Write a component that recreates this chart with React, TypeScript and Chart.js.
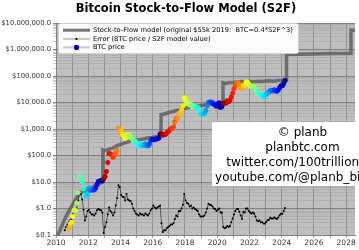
import { useEffect, useRef } from "react";
import { Chart, registerables } from "chart.js";
Chart.register(...registerables);

// ---------- DATA ----------
// BTC monthly prices (USD), one array per calendar year, null = not shown
const btc2010 = [null, null, null, null, null, null, 0.06, 0.07, 0.06, 0.18, 0.26, 0.3];
const btc2011 = [0.5, 0.85, 0.85, 1.6, 4.0, 16, 14, 10, 5.5, 3.2, 2.8, 3.6];
const btc2012 = [6, 5, 4.9, 5, 5.1, 6, 8, 10.5, 11, 11.5, 11, 13.3];
const btc2013 = [16, 25, 55, 120, 115, 105, 85, 105, 130, 160, 1100, 760];
const btc2014 = [850, 620, 580, 450, 500, 620, 610, 520, 450, 360, 370, 330];
const btc2015 = [250, 235, 270, 235, 237, 235, 280, 250, 235, 270, 360, 420];
const btc2016 = [410, 400, 415, 430, 460, 650, 660, 580, 605, 640, 720, 800];
const btc2017 = [900, 1050, 1100, 1250, 1900, 2600, 2500, 3900, 4000, 5300, 7500, 15000];
const btc2018 = [12000, 9500, 9000, 8000, 8500, 6700, 7200, 6700, 6600, 6500, 5500, 3700];
const btc2019 = [3600, 3700, 3950, 5000, 7500, 10000, 10500, 10500, 9700, 8500, 8000, 7200];
const btc2020 = [8500, 9800, 6500, 7000, 9300, 9500, 9600, 11600, 10700, 11800, 16000, 23000];
const btc2021 = [34000, 46000, 55000, 57000, 45000, 35000, 33000, 46000, 45000, 60000, 60000, 50000];
const btc2022 = [42000, 40000, 42000, 41000, 31000, 22000, 21000, 22000, 19500, 19500, 17000, 16800];
const btc2023 = [20000, 23000, 25000, 29000, 27500, 27000, 30000, 28000, 26500, 30000, 37000, 42500];
const btc2024 = [42500, 52000, 68000];

// Error = BTC price / S2F model value, monthly
const err2010 = [null, null, null, null, null, null, 0.15, 0.2, 0.25, 0.3, 0.35, 0.4];
const err2011 = [0.6, 0.9, 0.8, 1.0, 2.0, 4.5, 3.5, 2.2, 0.9, 0.35, 0.5, 0.8];
const err2012 = [0.9, 0.7, 0.6, 0.6, 0.55, 0.65, 0.85, 0.95, 0.9, 0.85, 0.7, 0.12];
const err2013 = [0.2, 0.3, 0.6, 1.1, 0.8, 0.7, 0.55, 0.7, 1.3, 2.5, 7.5, 6.5];
const err2014 = [3.2, 2.8, 2.7, 2.0, 3.5, 2.2, 2.0, 1.9, 1.5, 1.0, 0.8, 0.65];
const err2015 = [0.6, 0.55, 0.65, 0.6, 0.6, 0.55, 0.65, 0.6, 0.55, 0.65, 0.85, 1.0];
const err2016 = [1.3, 1.1, 1.0, 1.1, 1.2, 1.3, 0.28, 0.13, 0.15, 0.15, 0.18, 0.2];
const err2017 = [0.22, 0.25, 0.25, 0.28, 0.4, 0.55, 0.5, 0.8, 0.8, 1.0, 1.4, 3.5];
const err2018 = [2.0, 1.6, 1.5, 1.2, 1.3, 1.0, 1.1, 0.95, 0.9, 0.8, 0.6, 0.5];
const err2019 = [0.5, 0.5, 0.55, 0.7, 1.0, 1.5, 1.4, 1.35, 1.2, 1.0, 0.95, 0.8];
const err2020 = [0.9, 1.0, 0.7, 0.7, 0.2, 0.18, 0.19, 0.22, 0.2, 0.22, 0.3, 0.42];
const err2021 = [0.6, 0.8, 0.95, 0.95, 0.75, 0.55, 0.4, 0.75, 0.7, 1.0, 1.0, 0.8];
const err2022 = [0.7, 0.65, 0.7, 0.65, 0.5, 0.35, 0.33, 0.35, 0.3, 0.3, 0.27, 0.27];
const err2023 = [0.31, 0.36, 0.38, 0.45, 0.42, 0.42, 0.46, 0.43, 0.4, 0.46, 0.56, 0.63];
const err2024 = [0.63, 0.8, 1.05];

const dataYears = [2010, 2011, 2012, 2013, 2014, 2015, 2016, 2017, 2018, 2019, 2020, 2021, 2022, 2023, 2024];
const btcByYear = [btc2010, btc2011, btc2012, btc2013, btc2014, btc2015, btc2016, btc2017, btc2018, btc2019, btc2020, btc2021, btc2022, btc2023, btc2024];
const errByYear = [err2010, err2011, err2012, err2013, err2014, err2015, err2016, err2017, err2018, err2019, err2020, err2021, err2022, err2023, err2024];

// Stock-to-Flow model value (USD)
const s2fYears = [
  2010.0, 2010.25, 2010.5, 2010.75, 2011.0, 2011.25, 2011.5, 2011.75, 2012.0, 2012.25, 2012.5, 2012.75, 2012.9,
  2012.91, 2013.0, 2013.25, 2013.5, 2013.75, 2014.0, 2014.25, 2014.5, 2014.75, 2015.0, 2015.25, 2015.5, 2015.75, 2016.0, 2016.25, 2016.51,
  2016.52, 2016.75, 2017.0, 2017.25, 2017.5, 2017.75, 2018.0, 2018.25, 2018.5, 2018.75, 2019.0, 2019.25, 2019.5, 2019.75, 2020.0, 2020.35,
  2020.36, 2020.5, 2020.75, 2021.0, 2021.25, 2021.5, 2021.75, 2022.0, 2022.25, 2022.5, 2022.75, 2023.0, 2023.25, 2023.5, 2023.75, 2024.0, 2024.29,
  2024.3, 2025.0, 2026.0, 2027.0, 2028.29,
  2028.3, 2028.6,
];
const s2fValues = [
  0.07, 0.15, 0.35, 0.7, 1.3, 2.4, 3.8, 4.5, 5.5, 6.3, 7.5, 9.0, 10.5,
  160, 150, 170, 190, 230, 260, 300, 330, 360, 390, 400, 430, 470, 480, 520, 560,
  3500, 3700, 4200, 4600, 5000, 5500, 6000, 6500, 6800, 7300, 7700, 8000, 8500, 8900, 9500, 10000,
  55000, 52000, 56000, 57000, 60000, 62000, 60000, 63000, 61000, 64000, 62000, 65000, 66000, 63000, 67000, 68000, 70000,
  650000, 660000, 680000, 700000, 720000,
  5300000, 5400000,
];

// Cycle boundaries used for the BTC price colouring (halvings)
const cycleStarts = [2009.9, 2012.91, 2016.52, 2020.36, 2024.3, 2028.3];

// Axis ticks
const xTickYears = [2010, 2011, 2012, 2013, 2014, 2015, 2016, 2017, 2018, 2019, 2020, 2021, 2022, 2023, 2024, 2025, 2026, 2027, 2028];
const xLabelYears = [2010, 2012, 2014, 2016, 2018, 2020, 2022, 2024, 2026, 2028];
const yMajorValues = [0.1, 1, 10, 100, 1000, 10000, 100000, 1000000, 10000000];
const yMajorLabels = ["$0.1", "$1.0", "$10.0", "$100.0", "$1,000.0", "$10,000.0", "$100,000.0", "$1,000,000.0", "$10,000,000.0"];

const titleText = "Bitcoin Stock-to-Flow Model (S2F)";
const legendLabels = [
  "Stock-to-Flow model (original $55k 2019:  BTC=0.4*S2F^3)",
  "Error (BTC price / S2F model value)",
  "BTC price",
];
const creditLines = ["© planb", "planbtc.com", "twitter.com/100trillionUSD", "youtube.com/@planb_bitcoin"];

// ---------- helpers ----------
function clamp01(v: number) {
  return Math.max(0, Math.min(1, v));
}
function jet(v: number) {
  const r = clamp01(Math.min(4 * v - 1.5, -4 * v + 4.5));
  const g = clamp01(Math.min(4 * v - 0.5, -4 * v + 3.5));
  const b = clamp01(Math.min(4 * v + 0.5, -4 * v + 2.5));
  return `rgb(${Math.round(r * 255)},${Math.round(g * 255)},${Math.round(b * 255)})`;
}
function cycleColor(x: number) {
  for (let i = 0; i < cycleStarts.length - 1; i++) {
    if (x >= cycleStarts[i] && x < cycleStarts[i + 1]) {
      const f = (x - cycleStarts[i]) / (cycleStarts[i + 1] - cycleStarts[i]);
      return jet(1 - f);
    }
  }
  return jet(0.7);
}
function monthlyPoints(byYear: (number | null)[][]) {
  const pts: { x: number; y: number }[] = [];
  byYear.forEach((arr, yi) => {
    arr.forEach((v, m) => {
      if (v !== null) pts.push({ x: dataYears[yi] + (m + 0.5) / 12, y: v });
    });
  });
  return pts;
}

const FONT = '"DejaVu Sans", "Liberation Sans", sans-serif';
const S2F_COLOR = "rgba(95,95,95,0.85)";

const overlayPlugin = {
  id: "overlay",
  beforeDraw(chart: any) {
    const { ctx, chartArea } = chart;
    ctx.save();
    ctx.fillStyle = "#ffffff";
    ctx.fillRect(0, 0, chart.width, chart.height);
    ctx.fillStyle = "#bfbfbf";
    ctx.fillRect(chartArea.left, chartArea.top, chartArea.right - chartArea.left, chartArea.bottom - chartArea.top);
    ctx.restore();
  },
  afterDraw(chart: any) {
    const { ctx } = chart;
    ctx.save();
    // title
    ctx.fillStyle = "#000";
    ctx.font = `bold 11.5px ${FONT}`;
    ctx.textAlign = "center";
    ctx.textBaseline = "middle";
    ctx.fillText(titleText, 186, 9.5);

    // legend box
    const lx = 58.5, ly = 23.5, lw = 240, lh = 30;
    ctx.beginPath();
    (ctx as any).roundRect(lx, ly, lw, lh, 2);
    ctx.fillStyle = "rgba(255,255,255,0.95)";
    ctx.fill();
    ctx.strokeStyle = "#d0d0d0";
    ctx.lineWidth = 0.8;
    ctx.stroke();

    const rows = [30.2, 38.9, 47.4];
    // handle 1
    ctx.strokeStyle = S2F_COLOR;
    ctx.lineWidth = 3;
    ctx.beginPath();
    ctx.moveTo(63, rows[0]);
    ctx.lineTo(90, rows[0]);
    ctx.stroke();
    // handle 2
    ctx.strokeStyle = "#c8c8c8";
    ctx.lineWidth = 2;
    ctx.beginPath();
    ctx.moveTo(63, rows[1]);
    ctx.lineTo(90, rows[1]);
    ctx.stroke();
    ctx.fillStyle = "#000";
    ctx.beginPath();
    ctx.arc(76.5, rows[1], 1.1, 0, Math.PI * 2);
    ctx.fill();
    // handle 3
    ctx.strokeStyle = "#c8c8c8";
    ctx.beginPath();
    ctx.moveTo(63, rows[2]);
    ctx.lineTo(90, rows[2]);
    ctx.stroke();
    ctx.fillStyle = "#0000b0";
    ctx.beginPath();
    ctx.arc(76.5, rows[2], 2.6, 0, Math.PI * 2);
    ctx.fill();

    ctx.fillStyle = "#000";
    ctx.font = `6.7px ${FONT}`;
    ctx.textAlign = "left";
    ctx.textBaseline = "middle";
    legendLabels.forEach((t, i) => ctx.fillText(t, 93, rows[i]));

    // credit box
    ctx.fillStyle = "#ffffff";
    ctx.fillRect(212, 122, 160, 64);
    ctx.fillStyle = "#000";
    ctx.font = `12px ${FONT}`;
    ctx.textAlign = "center";
    ctx.textBaseline = "middle";
    const creditX = [302.5, 302.5, 305.5, 302.5];
    creditLines.forEach((t, i) => ctx.fillText(t, creditX[i], 133 + i * 15));
    ctx.restore();
  },
};

export default function App() {
  const ref = useRef<HTMLCanvasElement>(null);
  useEffect(() => {
    document.body.style.margin = "0";
    const btcPts = monthlyPoints(btcByYear);
    const errPts = monthlyPoints(errByYear);
    const s2fPts = s2fYears.map((x, i) => ({ x, y: s2fValues[i] }));
    const chart = new Chart(ref.current as HTMLCanvasElement, {
      type: "line",
      data: {
        datasets: [
          {
            label: "BTC price",
            data: btcPts,
            showLine: false,
            pointRadius: 2.5,
            pointBorderWidth: 0,
            pointBackgroundColor: btcPts.map((p) => cycleColor(p.x)),
            pointBorderColor: btcPts.map((p) => cycleColor(p.x)),
          },
          {
            label: "Error",
            data: errPts,
            borderColor: "#1a1a1a",
            borderWidth: 0.6,
            pointRadius: 1,
            pointBorderWidth: 0,
            pointBackgroundColor: "#000",
            tension: 0,
          },
          {
            label: "S2F",
            data: s2fPts,
            borderColor: S2F_COLOR,
            borderWidth: 3.5,
            pointRadius: 0,
            tension: 0,
            borderJoinStyle: "miter",
          },
        ],
      } as any,
      options: {
        animation: false,
        responsive: false,
        devicePixelRatio: 1,
        layout: { padding: { top: 23, left: 0, right: 0, bottom: 0 } },
        plugins: { legend: { display: false }, tooltip: { enabled: false }, title: { display: false } },
        scales: {
          x: {
            type: "linear",
            min: 2010,
            max: 2028.55,
            afterBuildTicks: (scale: any) => {
              scale.ticks = xTickYears.map((v) => ({ value: v }));
            },
            afterFit: (scale: any) => {
              scale.height = 15;
              scale.paddingLeft = 0;
              scale.paddingRight = 0;
            },
            ticks: {
              autoSkip: false,
              maxRotation: 0,
              padding: 1,
              color: "#333",
              font: { family: FONT, size: 7.5 },
              callback: (v: any) => (xLabelYears.includes(Number(v)) ? String(v) : ""),
            },
            grid: { color: "#858585", lineWidth: 0.8, tickLength: 3 },
            border: { color: "#808080" },
          },
          y: {
            type: "logarithmic",
            min: 0.1,
            max: 10000000,
            afterBuildTicks: (scale: any) => {
              const t: any[] = [];
              yMajorValues.forEach((m, i) => {
                t.push({ value: m, major: true });
                if (i < yMajorValues.length - 1) {
                  for (let k = 2; k <= 9; k++) t.push({ value: m * k });
                }
              });
              scale.ticks = t;
            },
            afterFit: (scale: any) => {
              scale.width = 56;
              scale.paddingTop = 0;
              scale.paddingBottom = 0;
            },
            ticks: {
              autoSkip: false,
              padding: 2,
              color: "#333",
              font: { family: FONT, size: 6.8 },
              callback: (v: any) => {
                const idx = yMajorValues.findIndex((m) => Math.abs(Math.log10(Number(v)) - Math.log10(m)) < 1e-6);
                return idx >= 0 ? yMajorLabels[idx] : "";
              },
            },
            grid: {
              color: (c: any) => {
                const v = c.tick ? c.tick.value : 1;
                const lg = Math.log10(v);
                return Math.abs(lg - Math.round(lg)) < 1e-6 ? "#7a7a7a" : "#a4a4a4";
              },
              lineWidth: (c: any) => {
                const v = c.tick ? c.tick.value : 1;
                const lg = Math.log10(v);
                return Math.abs(lg - Math.round(lg)) < 1e-6 ? 0.9 : 0.6;
              },
              tickLength: 3,
            },
            border: { color: "#808080" },
          },
        },
      } as any,
      plugins: [overlayPlugin],
    });
    return () => chart.destroy();
  }, []);
  return (
    <div style={{ width: 359, height: 250, margin: 0 }}>
      <canvas ref={ref} width={359} height={250} style={{ display: "block" }} />
    </div>
  );
}
